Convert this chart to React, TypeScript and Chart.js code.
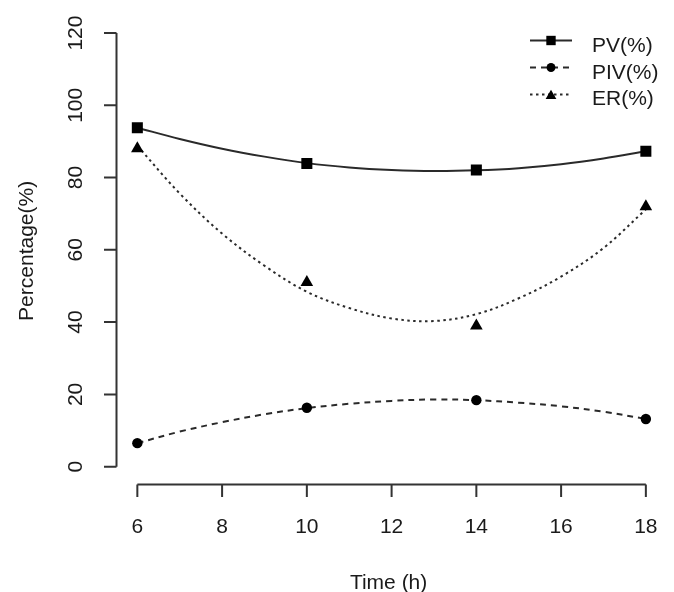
import React, { useEffect, useRef } from "react";
import { Chart, registerables } from "chart.js";

Chart.register(...registerables);

// Observed data
const timeHours = [6, 10, 14, 18];
const pvValues = [93.8, 83.9, 82.1, 87.3];
const pivValues = [6.5, 16.3, 18.4, 13.2];
const erValues = [88, 51, 39, 72];

// Fitted curves
const fitHours = [6, 7, 8, 9, 10, 11, 12, 13, 14, 15, 16, 17, 18];
const pvFit = [93.8, 90.7, 88.0, 85.8, 84.0, 82.8, 82.1, 81.8, 82.0, 82.6, 83.7, 85.3, 87.3];
const pivFit = [6.5, 9.7, 12.3, 14.5, 16.2, 17.4, 18.2, 18.6, 18.4, 17.7, 16.7, 15.2, 13.2];
const erFit = [88.8, 75.6, 64.5, 55.6, 48.4, 43.9, 41.0, 40.3, 42.2, 46.6, 52.6, 60.5, 71.2];

const seriesLabels = ["PV(%)", "PIV(%)", "ER(%)"];
const xTicks = [6, 8, 10, 12, 14, 16, 18];
const yTicks = [0, 20, 40, 60, 80, 100, 120];
const xTitle = "Time (h)";
const yTitle = "Percentage(%)";

const FONT = '21px "Liberation Sans", Arial, sans-serif';
const INK = "#1a1a1a";
const LINE = "#2a2a2a";

const styles = [
  { pointStyle: "rect", radius: 7.8, dash: [] as number[] },
  { pointStyle: "circle", radius: 5.2, dash: [6, 5] },
  { pointStyle: "triangle", radius: 7.3, dash: [2.5, 3.5] },
];

function pts(xs: number[], ys: number[]) {
  return xs.map((x, i) => ({ x, y: ys[i] }));
}

function drawMarker(ctx: CanvasRenderingContext2D, style: string, r: number, x: number, y: number) {
  ctx.beginPath();
  if (style === "rect") {
    const s = Math.SQRT1_2 * r;
    ctx.rect(x - s, y - s, 2 * s, 2 * s);
  } else if (style === "circle") {
    ctx.arc(x, y, r, 0, Math.PI * 2);
  } else {
    let rad = 0;
    ctx.moveTo(x + Math.sin(rad) * r, y - Math.cos(rad) * r);
    rad += (2 * Math.PI) / 3;
    ctx.lineTo(x + Math.sin(rad) * r, y - Math.cos(rad) * r);
    rad += (2 * Math.PI) / 3;
    ctx.lineTo(x + Math.sin(rad) * r, y - Math.cos(rad) * r);
    ctx.closePath();
  }
  ctx.fill();
}

const axesPlugin = {
  id: "rAxes",
  afterDraw(chart: any) {
    const ctx = chart.ctx as CanvasRenderingContext2D;
    const xs = chart.scales.x;
    const ys = chart.scales.y;
    const area = chart.chartArea;
    ctx.save();
    ctx.strokeStyle = "#333";
    ctx.lineWidth = 2;
    ctx.fillStyle = INK;
    ctx.font = FONT;

    // x axis
    const xa = area.bottom + 0.5;
    const x0 = xs.getPixelForValue(xTicks[0]);
    const x1 = xs.getPixelForValue(xTicks[xTicks.length - 1]);
    ctx.beginPath();
    ctx.moveTo(x0, xa);
    ctx.lineTo(x1, xa);
    xTicks.forEach((t) => {
      const px = xs.getPixelForValue(t);
      ctx.moveTo(px, xa);
      ctx.lineTo(px, xa + 12.5);
    });
    ctx.stroke();
    ctx.textAlign = "center";
    ctx.textBaseline = "alphabetic";
    xTicks.forEach((t) => {
      const px = xs.getPixelForValue(t);
      ctx.fillText(String(t), px, 533);
    });
    ctx.fillText(xTitle, (area.left + area.right) / 2 - 3, 589);

    // y axis
    const ya = area.left - 0.5;
    const y0 = ys.getPixelForValue(yTicks[0]);
    const y1 = ys.getPixelForValue(yTicks[yTicks.length - 1]);
    ctx.beginPath();
    ctx.moveTo(ya, y0);
    ctx.lineTo(ya, y1);
    yTicks.forEach((t) => {
      const py = ys.getPixelForValue(t);
      ctx.moveTo(ya, py);
      ctx.lineTo(ya - 12.5, py);
    });
    ctx.stroke();
    yTicks.forEach((t) => {
      const py = ys.getPixelForValue(t);
      ctx.save();
      ctx.translate(82, py);
      ctx.rotate(-Math.PI / 2);
      ctx.textAlign = "center";
      ctx.fillText(String(t), 0, 0);
      ctx.restore();
    });
    ctx.save();
    ctx.translate(33, (area.top + area.bottom) / 2 + 1);
    ctx.rotate(-Math.PI / 2);
    ctx.textAlign = "center";
    ctx.fillText(yTitle, 0, 0);
    ctx.restore();

    // legend
    const lineY = [40.5, 67.5, 94.5];
    const textY = [51.7, 78.5, 105];
    seriesLabels.forEach((lab, i) => {
      const st = styles[i];
      ctx.save();
      ctx.strokeStyle = LINE;
      ctx.lineWidth = 2;
      ctx.setLineDash(st.dash);
      ctx.beginPath();
      ctx.moveTo(530, lineY[i]);
      ctx.lineTo(572, lineY[i]);
      ctx.stroke();
      ctx.restore();
      ctx.save();
      ctx.fillStyle = "#000";
      drawMarker(ctx, st.pointStyle, st.radius * 0.85, 551, lineY[i] + (st.pointStyle === "triangle" ? 1.5 : 0));
      ctx.restore();
      ctx.fillStyle = INK;
      ctx.textAlign = "left";
      ctx.fillText(lab, 592, textY[i]);
    });
    ctx.restore();
  },
};

export default function App() {
  const ref = useRef<HTMLCanvasElement | null>(null);
  useEffect(() => {
    if (!ref.current) return;
    const obs = [pvValues, pivValues, erValues];
    const fits = [pvFit, pivFit, erFit];
    const pointSets = obs.map((v, i) => ({
      label: seriesLabels[i],
      data: pts(timeHours, v),
      showLine: false,
      pointStyle: styles[i].pointStyle,
      pointRadius: styles[i].radius,
      pointBackgroundColor: "#000",
      pointBorderColor: "#000",
      pointBorderWidth: 0,
      order: 0,
    }));
    const fitSets = fits.map((v, i) => ({
      label: seriesLabels[i] + " fit",
      data: pts(fitHours, v),
      pointRadius: 0,
      borderColor: LINE,
      borderWidth: 2,
      borderDash: styles[i].dash,
      tension: 0.35,
      fill: false,
      order: 1,
    }));
    const chart = new Chart(ref.current, {
      type: "line",
      data: { datasets: [...pointSets, ...fitSets] as any },
      options: {
        responsive: false,
        animation: false,
        devicePixelRatio: 1,
        layout: { padding: { left: 117, right: 3.5, top: 15.7, bottom: 108 } },
        plugins: { legend: { display: false }, tooltip: { enabled: false } },
        scales: {
          x: { type: "linear", min: 5.52, max: 18.48, display: false },
          y: { type: "linear", min: -4.8, max: 124.8, display: false },
        },
      },
      plugins: [axesPlugin],
    });
    return () => chart.destroy();
  }, []);
  return (
    <canvas
      ref={ref}
      width={674}
      height={592}
      style={{ position: "absolute", left: 0, top: 0, width: 674, height: 592, display: "block" }}
    />
  );
}
